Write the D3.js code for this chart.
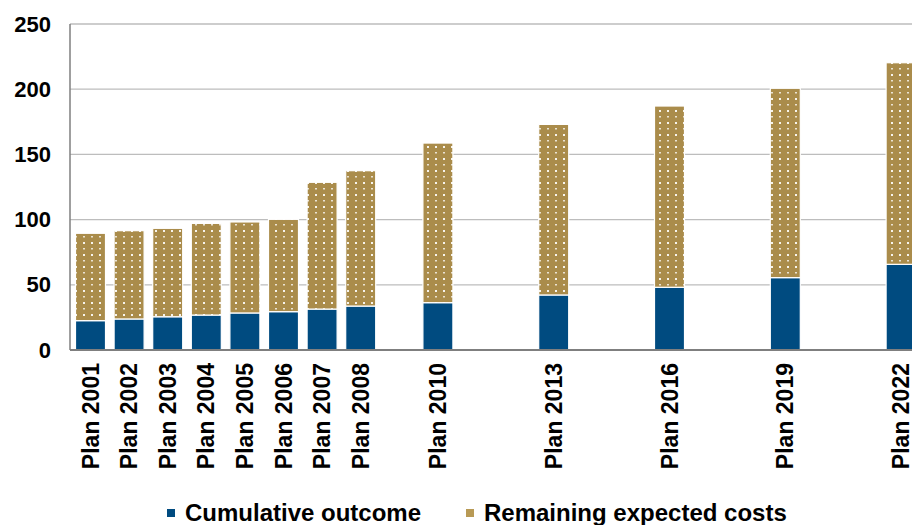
<!DOCTYPE html>
<html>
<head>
<meta charset="utf-8">
<script src="https://cdn.jsdelivr.net/npm/d3@7/dist/d3.min.js"></script>
<style>
  html, body { margin: 0; padding: 0; background: #fff; overflow: hidden; }
  svg { display: block; font-family: "Liberation Sans", Arial, sans-serif; font-weight: bold; }
</style>
</head>
<body>
<svg id="chart" width="912" height="525"></svg>
<script>
// Plan years and the two stacked components (billions)
const years = [2001, 2002, 2003, 2004, 2005, 2006, 2007, 2008, 2010, 2013, 2016, 2019, 2022];
const cumulativeOutcome = [22.5, 23.8, 25.5, 26.8, 28.4, 29.4, 31.4, 33.7, 36.3, 42.2, 48.1, 55.5, 65.7];
const remainingCosts   = [67.0, 67.7, 67.8, 70.3, 69.8, 70.8, 97.2, 103.8, 122.4, 130.8, 139.0, 145.2, 154.6];
const yTicks = [0, 50, 100, 150, 200, 250];
const seriesNames = ["Cumulative outcome", "Remaining expected costs"];

const blue = "#004B80";
const gold = "#AA8C4B";

const svg = d3.select("#chart");

// Dotted fill for the remaining-costs segments
const defs = svg.append("defs");
const pat = defs.append("pattern")
  .attr("id", "dots")
  .attr("patternUnits", "userSpaceOnUse")
  .attr("width", 8).attr("height", 12);
pat.append("rect").attr("width", 8).attr("height", 12).attr("fill", gold);
pat.append("rect").attr("x", 3).attr("y", 2).attr("width", 2).attr("height", 2).attr("fill", "#fff").attr("opacity", 0.9);
pat.append("rect").attr("x", 3).attr("y", 8).attr("width", 2).attr("height", 1.5).attr("fill", "#fff").attr("opacity", 0.75);

const plotLeft = 70, plotBottom = 350, plotTop = 24;
const x = d3.scaleLinear().domain([2000.5, 2022.5]).range([71.2, 920.4]);
const y = d3.scaleLinear().domain([0, 250]).range([plotBottom, plotTop]);
const barW = 30;

// Horizontal gridlines
svg.append("g")
  .selectAll("line")
  .data(yTicks.filter(t => t > 0))
  .join("line")
  .attr("x1", plotLeft).attr("x2", 912)
  .attr("y1", d => y(d)).attr("y2", d => y(d))
  .attr("stroke", "#BDBDBD").attr("stroke-width", 1.3);

// Y axis labels
const yAxis = svg.append("g")
  .attr("transform", `translate(${plotLeft},0)`)
  .call(d3.axisLeft(y).tickValues(yTicks).tickSize(0).tickPadding(19));
yAxis.select(".domain").remove();
yAxis.selectAll("text")
  .attr("font-size", 22).attr("font-weight", "bold")
  .attr("font-family", "'Liberation Sans', Arial, sans-serif")
  .attr("fill", "#000");

// Stacked bars
const rows = years.map((yr, i) => ({ year: yr, a: cumulativeOutcome[i], b: remainingCosts[i] }));
const bars = svg.append("g");
bars.selectAll("rect.outcome")
  .data(rows)
  .join("rect")
  .attr("class", "outcome")
  .attr("x", d => x(d.year) - barW / 2)
  .attr("width", barW)
  .attr("y", d => y(d.a))
  .attr("height", d => y(0) - y(d.a))
  .attr("fill", blue)
  .attr("stroke", "#fff").attr("stroke-width", 1.2);
bars.selectAll("rect.remaining")
  .data(rows)
  .join("rect")
  .attr("class", "remaining")
  .attr("x", d => x(d.year) - barW / 2)
  .attr("width", barW)
  .attr("y", d => y(d.a + d.b))
  .attr("height", d => y(d.a) - y(d.a + d.b))
  .attr("fill", "url(#dots)")
  .attr("stroke", "#fff").attr("stroke-width", 1.2);

// Axis lines
svg.append("line")
  .attr("x1", plotLeft).attr("x2", plotLeft)
  .attr("y1", plotTop).attr("y2", plotBottom)
  .attr("stroke", "#7F7F7F").attr("stroke-width", 1.5);
svg.append("line")
  .attr("x1", plotLeft).attr("x2", 912)
  .attr("y1", plotBottom).attr("y2", plotBottom)
  .attr("stroke", "#7F7F7F").attr("stroke-width", 2);

// Rotated category labels
svg.append("g")
  .selectAll("text")
  .data(years)
  .join("text")
  .attr("transform", d => `translate(${x(d) + 8},${plotBottom + 13}) rotate(-90)`)
  .attr("text-anchor", "end")
  .attr("font-size", 23)
  .attr("fill", "#000")
  .text(d => `Plan ${d}`);

// Legend
const legend = svg.append("g");
const legendX = [167, 466];
seriesNames.forEach((name, i) => {
  legend.append("rect")
    .attr("x", legendX[i]).attr("y", 509)
    .attr("width", 8).attr("height", 8)
    .attr("fill", i === 0 ? blue : "#B89A55");
  legend.append("text")
    .attr("x", legendX[i] + 18).attr("y", 521)
    .attr("font-size", 24)
    .attr("fill", "#000")
    .text(name);
});
</script>
</body>
</html>
